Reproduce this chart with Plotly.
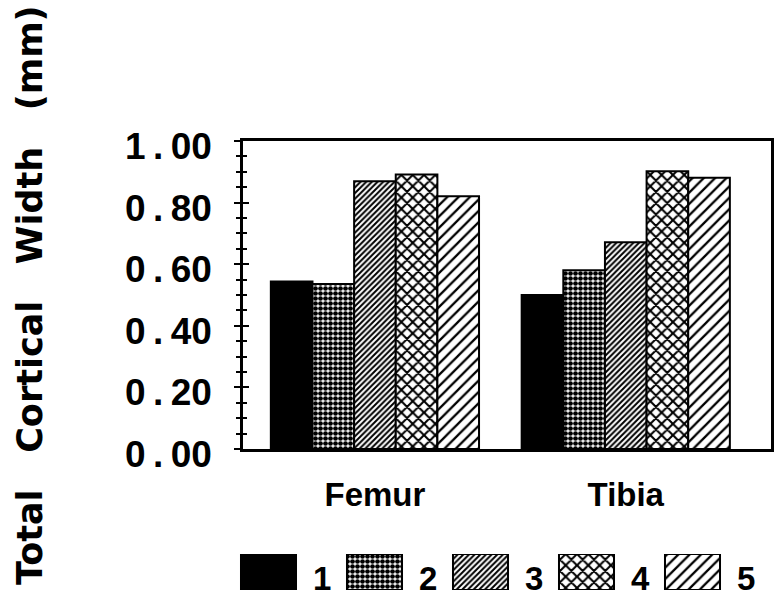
import plotly.graph_objects as go

W, H = 778, 599

categories = ["Femur", "Tibia"]
series_names = ["1", "2", "3", "4", "5"]
series1 = [0.544, 0.500]
series2 = [0.536, 0.580]
series3 = [0.869, 0.671]
series4 = [0.891, 0.902]
series5 = [0.821, 0.881]
series_values = [series1, series2, series3, series4, series5]

ytick_vals = [0.0, 0.2, 0.4, 0.6, 0.8, 1.0]
ytick_labels = ["0.00", "0.20", "0.40", "0.60", "0.80", "1.00"]
# wide letter spacing of the original tick labels (thin spaces around the point)
ytick_text = [t.replace(".", "\u2009.\u2009") for t in ytick_labels]
y_title = "Total\u00a0\u00a0\u00a0Cortical\u00a0\u00a0\u00a0Width\u00a0\u00a0\u00a0(mm)"

# pattern styles per series
shapes = ["", ".", "/", "x", "/"]
sizes = [8, 5, 4, 8, 8]
solid = [1.0, 0.7, 0.5, 0.45, 0.28]
colors = ["black", "white", "white", "white", "white"]

def px_x(p):
    return p / W

def px_y(p):
    return 1 - p / H

def make_marker(i):
    if shapes[i]:
        pattern = dict(shape=shapes[i], size=sizes[i], solidity=solid[i],
                       fgcolor="black", bgcolor="white", fillmode="replace")
    else:
        pattern = dict(shape="")
    return dict(color=colors[i], line=dict(color="black", width=2), pattern=pattern)

fig = go.Figure()
for i, (name, vals) in enumerate(zip(series_names, series_values)):
    fig.add_trace(go.Bar(
        x=categories, y=vals, name=name, marker=make_marker(i),
        xaxis="x", yaxis="y", showlegend=False,
    ))

# invisible trace to activate inner tick axis
fig.add_trace(go.Scatter(x=[None], y=[None], xaxis="x", yaxis="y3",
                         showlegend=False, hoverinfo="skip"))

# hand-drawn legend swatches as bars on a separate axis
leg_x = list(range(len(series_names)))
for i, name in enumerate(series_names):
    fig.add_trace(go.Bar(
        x=[leg_x[i]], y=[1], width=0.519, offsetgroup="legend",
        xaxis="x2", yaxis="y2", showlegend=False, cliponaxis=False, hoverinfo="skip",
        marker=make_marker(i),
    ))

main_dom_x = [px_x(243), px_x(771)]
main_dom_y = [px_y(449), px_y(141)]

fig.update_layout(
    width=W, height=H,
    margin=dict(l=0, r=0, t=0, b=0, pad=0, autoexpand=False),
    paper_bgcolor="white", plot_bgcolor="white",
    barmode="group", bargap=0.17, bargroupgap=0,
    showlegend=False,
    xaxis=dict(
        domain=main_dom_x, range=[-0.526, 1.579], automargin=False,
        showline=True, linecolor="black", linewidth=2.5, mirror=True,
        ticks="", showgrid=False, zeroline=False,
        tickfont=dict(family="Liberation Sans", size=33, color="black", weight="bold"),
        ticklabelstandoff=15,
    ),
    yaxis=dict(
        domain=main_dom_y, range=[0, 1.0], automargin=False,
        showline=True, linecolor="black", linewidth=2.5, mirror=True,
        tickvals=ytick_vals, ticktext=ytick_text,
        ticks="outside", ticklen=6, tickwidth=2, tickcolor="black",
        minor=dict(dtick=0.05, ticks="outside", ticklen=4, tickwidth=1.5, tickcolor="black", showgrid=False),
        showgrid=False, zeroline=False,
        tickfont=dict(family="Liberation Sans", size=37, color="black", weight="bold"),
        ticklabelposition="outside",
        ticklabelstandoff=15,
        ticklabelshift=5,
    ),
    yaxis3=dict(
        domain=main_dom_y, range=[0, 1.0], overlaying="y", side="left", automargin=False,
        showline=False, showticklabels=False,
        tickvals=ytick_vals,
        ticks="inside", ticklen=6, tickwidth=2, tickcolor="black",
        minor=dict(dtick=0.05, ticks="inside", ticklen=4, tickwidth=1.5, tickcolor="black", showgrid=False),
        showgrid=False, zeroline=False,
    ),
    xaxis2=dict(
        domain=[0, 1], range=[-268.5 / 106, (W - 268.5) / 106],
        visible=False, anchor="y2", automargin=False,
    ),
    yaxis2=dict(
        domain=[px_y(590), px_y(554)], range=[0, 1],
        visible=False, anchor="x2", automargin=False,
    ),
)

for i, name in enumerate(series_names):
    fig.add_annotation(
        x=leg_x[i] + 0.505, y=px_y(578.5), xref="x2", yref="paper",
        text=name, showarrow=False, xanchor="center", yanchor="middle",
        font=dict(family="Liberation Sans", size=33, color="black", weight="bold"),
    )

fig.add_annotation(
    x=px_x(30), y=px_y(295), xref="paper", yref="paper",
    text=y_title, textangle=-90, showarrow=False,
    xanchor="center", yanchor="middle",
    font=dict(family="DejaVu Sans", size=35, color="black", weight="bold"),
)

fig.write_html("out.html")
